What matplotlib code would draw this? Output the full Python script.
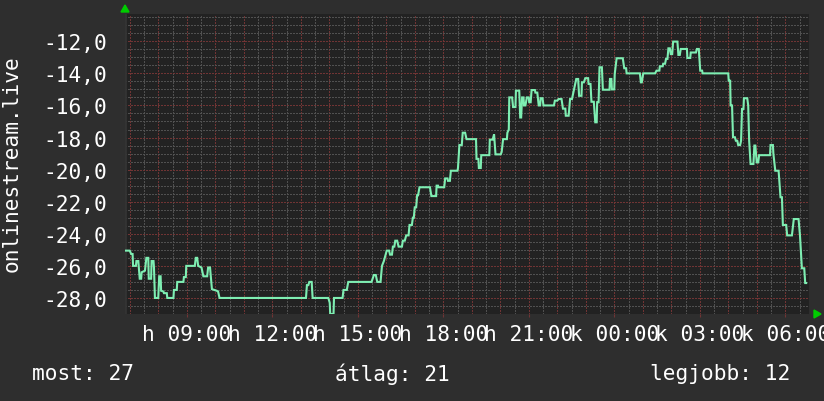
import matplotlib
matplotlib.use("Agg")
import matplotlib.pyplot as plt
import numpy as np

# ---- data: minutes since the graph start (06:50) and the measured value ----
start_hour = 6 + 50 / 60.0
minutes = [0, 10, 13, 16, 17, 23, 24, 28, 31, 34, 35, 42, 45, 49, 50, 55, 56, 60, 61, 63,
           70, 72, 75, 76, 81, 82, 88, 89, 102, 103, 109, 110, 123, 124, 128, 129, 147, 149, 152, 154,
           161, 165, 173, 175, 179, 183, 193, 196, 199, 381, 383, 386, 388, 393, 395, 428, 431, 432, 439, 440,
           458, 460, 467, 470, 519, 524, 528, 531, 538, 541, 545, 551, 556, 558, 562, 564, 567, 569, 573, 576,
           583, 585, 589, 592, 597, 599, 604, 606, 608, 610, 613, 615, 617, 620, 642, 645, 655, 656, 659, 660,
           672, 674, 679, 680, 684, 686, 700, 701, 704, 709, 711, 716, 719, 739, 740, 744, 745, 749, 750, 767,
           768, 774, 777, 780, 791, 793, 796, 804, 805, 808, 809, 815, 817, 822, 823, 830, 832, 834, 836, 839,
           840, 843, 846, 850, 851, 854, 856, 863, 864, 868, 871, 874, 875, 879, 881, 903, 905, 910, 913, 919,
           922, 927, 928, 934, 937, 941, 950, 954, 956, 961, 962, 966, 969, 975, 976, 980, 982, 987, 990, 993,
           994, 997, 999, 1004, 1006, 1020, 1021, 1024, 1025, 1030, 1031, 1035, 1048, 1051, 1055, 1056, 1084, 1086, 1088, 1091,
           1116, 1119, 1125, 1126, 1132, 1133, 1137, 1139, 1142, 1144, 1147, 1149, 1152, 1154, 1163, 1165, 1168, 1170, 1183, 1184,
           1190, 1191, 1202, 1204, 1208, 1211, 1215, 1216, 1270, 1271, 1274, 1275, 1278, 1280, 1284, 1286, 1289, 1291, 1295, 1297,
           1299, 1302, 1303, 1310, 1312, 1314, 1317, 1323, 1325, 1327, 1330, 1333, 1335, 1358, 1359, 1364, 1365, 1369, 1376, 1380,
           1383, 1385, 1392, 1394, 1404, 1408, 1418, 1421, 1425, 1430, 1432, 1434]
values = [-25.05, -25.05, -25.26, -25.26, -26.0, -26.0, -25.7, -25.7, -26.8, -26.8, -26.4, -26.3, -25.5, -25.5, -26.8, -26.8, -25.7, -25.7, -26.1, -28.0,
          -28.0, -26.65, -26.65, -27.55, -27.6, -27.7, -27.7, -28.0, -28.0, -27.5, -27.5, -27.0, -27.0, -26.7, -26.7, -26.0, -26.0, -25.5, -25.5, -26.0,
          -26.1, -26.65, -26.65, -26.1, -26.1, -27.45, -27.55, -27.6, -28.0, -28.0, -27.2, -27.2, -27.0, -27.0, -28.0, -28.0, -28.3, -29.0, -29.0, -28.0,
          -28.0, -27.5, -27.5, -27.0, -27.0, -26.57, -26.57, -27.0, -27.0, -26.0, -25.7, -25.05, -25.05, -25.3, -25.3, -24.8, -24.8, -24.43, -24.43, -24.8,
          -24.8, -24.43, -24.43, -24.1, -24.1, -23.45, -23.45, -23.0, -23.0, -22.35, -22.35, -21.6, -21.6, -21.1, -21.1, -21.65, -21.65, -21.0, -21.0, -21.1,
          -21.1, -20.55, -20.55, -20.7, -20.7, -20.07, -20.07, -19.9, -18.47, -18.47, -17.7, -17.7, -18.1, -18.1, -19.33, -19.33, -19.9, -19.9, -19.1, -19.1,
          -18.13, -18.13, -17.8, -19.05, -19.05, -18.9, -18.1, -18.1, -17.7, -17.5, -15.5, -15.5, -16.1, -16.1, -15.08, -15.08, -16.75, -16.75, -15.5, -15.5,
          -16.0, -16.0, -15.5, -15.5, -15.8, -15.8, -15.04, -15.04, -15.2, -15.2, -16.0, -16.0, -15.55, -15.55, -16.0, -16.0, -15.7, -15.7, -15.6, -15.6,
          -16.2, -16.2, -16.64, -16.64, -15.6, -15.6, -14.35, -14.35, -15.4, -15.4, -14.56, -14.56, -14.3, -14.3, -14.66, -14.66, -15.77, -15.77, -17.05, -17.05,
          -15.8, -15.8, -13.62, -13.62, -15.02, -15.02, -14.35, -14.35, -15.0, -15.0, -14.04, -13.06, -13.06, -13.68, -13.68, -14.0, -14.0, -14.56, -14.56, -14.0,
          -14.0, -13.83, -13.83, -13.56, -13.56, -13.4, -13.4, -13.1, -13.1, -12.44, -12.44, -12.8, -12.8, -12.02, -12.02, -12.85, -12.85, -12.48, -12.48, -13.04,
          -13.04, -12.7, -12.7, -12.48, -12.48, -13.83, -13.83, -14.0, -14.0, -14.46, -14.46, -16.0, -16.0, -17.98, -17.98, -18.2, -18.2, -18.47, -18.47, -18.2,
          -16.22, -16.22, -15.55, -15.55, -16.0, -18.2, -19.65, -19.65, -18.5, -18.5, -19.55, -19.55, -19.1, -19.1, -18.47, -18.47, -19.0, -20.07, -20.07, -21.72,
          -21.72, -23.45, -23.45, -24.1, -24.1, -23.08, -23.08, -24.1, -26.15, -26.15, -27.07, -27.07]

x_tick_hours = [9, 12, 15, 18, 21, 24, 27, 30]
x_tick_labels = ["h 09:00", "h 12:00", "h 15:00", "h 18:00", "h 21:00",
                 "k 00:00", "k 03:00", "k 06:00"]
y_ticks = [-28, -26, -24, -22, -20, -18, -16, -14, -12]
y_tick_labels = ["-28,0", "-26,0", "-24,0", "-22,0", "-20,0", "-18,0", "-16,0", "-14,0", "-12,0"]
y_label = "onlinestream.live"
summary = ["most: 27", "átlag: 21", "legjobb: 12"]

# ---- style ----
OUTER = "#2e2e2e"
PLOT_BG = "#222222"
LINE = "#7eeeb2"
MINOR = "#505050"
MAJOR = "#703434"
TEXT = "#ffffff"
FONT = "DejaVu Sans Mono"
FS = 15.2

W, H = 824, 402
fig = plt.figure(figsize=(W / 100, H / 100), dpi=100, facecolor=OUTER)
L, R, T, B = 125, 809, 15, 315
ax = fig.add_axes([L / W, 1 - B / H, (R - L) / W, (B - T) / H])
ax.set_facecolor(PLOT_BG)

x = start_hour + np.array(minutes) / 60.0
y = np.array(values)

x0, x1 = start_hour, start_hour + 24
y0, y1 = -29.0, -10.3
ax.set_xlim(x0, x1)
ax.set_ylim(y0, y1)

# grid lines (1 px dotted, crisp)
dot = (0, (1, 1.3))
gkw = dict(lw=0.8, ls=dot, zorder=1, antialiased=False)
for h in np.arange(np.ceil(x0 * 2) / 2, x1, 0.5):
    if abs(h - round(h)) < 1e-6:
        continue
    ax.axvline(h, color=MINOR, **gkw)
for h in np.arange(np.ceil(x0), x1, 1.0):
    ax.axvline(h, color=MAJOR, **gkw)
for v in np.arange(-29.0, y1, 0.5):
    if abs(v / 2 - round(v / 2)) < 1e-6:
        continue
    ax.axhline(v, color=MINOR, **gkw)
for v in y_ticks:
    ax.axhline(v, color=MAJOR, **gkw)

ax.plot(x, y, color=LINE, lw=1.5, zorder=3, solid_joinstyle="miter")

for s in ax.spines.values():
    s.set_visible(False)
ax.axvline(x0, color="#333333", lw=2.0, zorder=2)

ax.set_xticks(x_tick_hours)
ax.set_xticklabels(x_tick_labels, fontfamily=FONT, fontsize=FS, color=TEXT)
ax.set_yticks(y_ticks)
ax.set_yticklabels(y_tick_labels, fontfamily=FONT, fontsize=FS, color=TEXT)
ax.tick_params(axis="y", length=0, pad=13)
ax.tick_params(axis="x", length=2, color=MAJOR, pad=5)

fig.text(12 / W, 1 - 164 / H, y_label, rotation=90, ha="center", va="center",
         fontfamily=FONT, fontsize=FS, color=TEXT)

fig.text(32 / W, 1 - 374 / H, summary[0], ha="left", va="center",
         fontfamily=FONT, fontsize=FS, color=TEXT)
fig.text(335 / W, 1 - 374 / H, summary[1], ha="left", va="center",
         fontfamily=FONT, fontsize=FS, color=TEXT)
fig.text(650 / W, 1 - 374 / H, summary[2], ha="left", va="center",
         fontfamily=FONT, fontsize=FS, color=TEXT)

# axis arrows
fig.patches.append(plt.Polygon([[(L - 4) / W, 1 - 13 / H], [(L + 4) / W, 1 - 13 / H], [L / W, 1 - 6 / H]],
                               closed=True, transform=fig.transFigure, color="#00cc00", zorder=5))
fig.patches.append(plt.Polygon([[(R + 5) / W, 1 - (B - 4) / H], [(R + 5) / W, 1 - (B + 4) / H], [(R + 12) / W, 1 - B / H]],
                               closed=True, transform=fig.transFigure, color="#00cc00", zorder=5))

fig.savefig("out.png", dpi=100, facecolor=OUTER)
